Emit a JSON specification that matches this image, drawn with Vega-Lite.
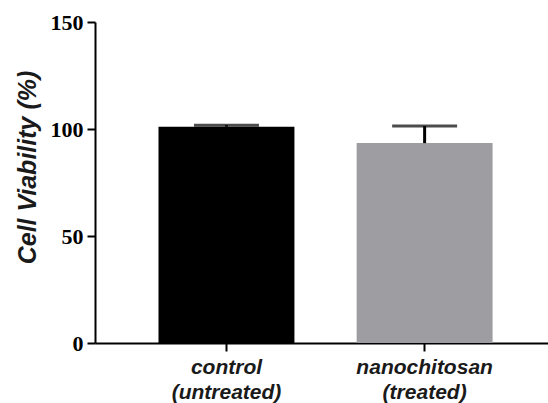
{
  "$schema": "https://vega.github.io/schema/vega-lite/v6.json",
  "autosize": {"type": "none"},
  "padding": {"left": 95, "top": 22, "right": 0, "bottom": 60},
  "width": 453,
  "height": 321,
  "background": "white",
  "config": {"view": {"stroke": null}},
  "data": {
    "values": [
      {"group": "control (untreated)", "mean": 101.1, "upper": 101.8},
      {"group": "nanochitosan (treated)", "mean": 93.4, "upper": 101.4}
    ]
  },
  "encoding": {
    "x": {
      "field": "group",
      "type": "nominal",
      "sort": null,
      "scale": {"paddingInner": 0.314, "paddingOuter": 0.3, "align": 0.534},
      "axis": {
        "title": null,
        "labelAngle": 0,
        "labelExpr": "split(datum.value, ' ')",
        "labelFont": "Liberation Sans",
        "labelFontSize": 21,
        "labelFontWeight": "bold",
        "labelFontStyle": "italic",
        "labelColor": "#1a1a1a",
        "labelLineHeight": 25,
        "labelPadding": 5,
        "domainColor": "black",
        "domainWidth": 2,
        "tickColor": "black",
        "tickWidth": 2,
        "tickSize": 8
      }
    }
  },
  "layer": [
    {
      "mark": {"type": "bar"},
      "encoding": {
        "y": {
          "field": "mean",
          "type": "quantitative",
          "scale": {"domain": [0, 150], "nice": false},
          "axis": {
            "values": [0, 50, 100, 150],
            "grid": false,
            "title": "Cell Viability (%)",
            "titleFont": "Liberation Sans",
            "titleFontSize": 25,
            "titleFontWeight": "bold",
            "titleFontStyle": "italic",
            "titleColor": "#1a1a1a",
            "titlePadding": 10,
            "titleY": 145,
            "labelFont": "Liberation Serif",
            "labelFontSize": 22,
            "labelFontWeight": "bold",
            "labelColor": "black",
            "labelPadding": 4,
            "domainColor": "black",
            "domainWidth": 2,
            "tickColor": "black",
            "tickWidth": 2,
            "tickSize": 8
          }
        },
        "color": {
          "field": "group",
          "type": "nominal",
          "scale": {"range": ["#000000", "#9e9ea2"]},
          "legend": null
        }
      }
    },
    {
      "mark": {"type": "rule", "color": "black", "strokeWidth": 3},
      "encoding": {
        "y": {"field": "mean", "type": "quantitative"},
        "y2": {"field": "upper"}
      }
    },
    {
      "mark": {"type": "tick", "color": "black", "size": 65, "thickness": 3},
      "encoding": {
        "y": {"field": "upper", "type": "quantitative"}
      }
    }
  ]
}
